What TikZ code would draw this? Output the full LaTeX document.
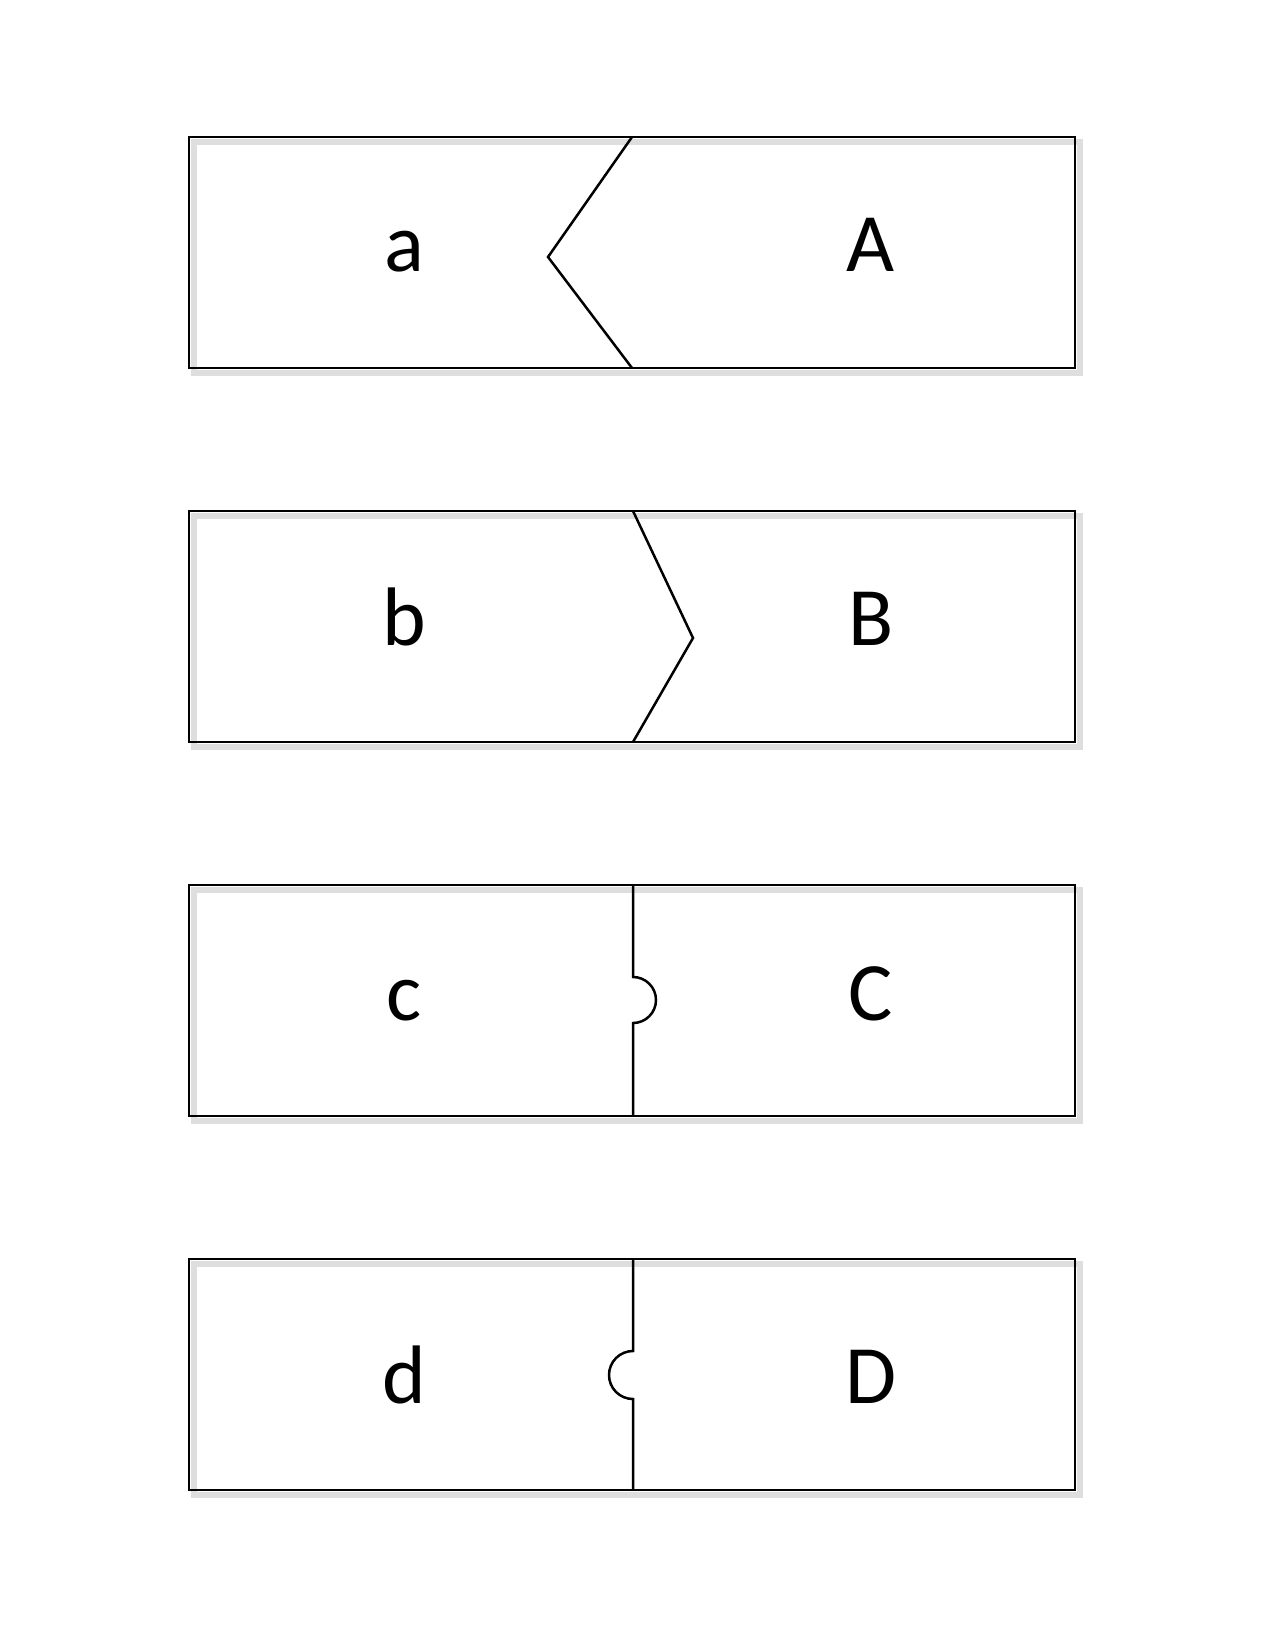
\documentclass[tikz,border=0pt]{standalone}
\usepackage{fontspec}
\setmainfont{Carlito}
\usetikzlibrary{positioning}
\tikzset{
    %one unit is one pixel of the page
    x=0.4818pt, y=-0.4818pt,
    boxline/.style={
      draw=black, line width=1.2pt, line join=miter},
    boxshade/.style={
      draw=black!13, line width=2.6pt},
    letter/.style={
      anchor=base, inner sep=0pt,
      font=\fontsize{40}{48}\selectfont},
}
\begin{document}
\begin{tikzpicture}
    \useasboundingbox [fill=white] (0,0) rectangle (1275,1650);
    % shadows
    \draw [boxshade] (194,142) rectangle (1080,373);
    \draw [boxshade] (194,516) rectangle (1080,747);
    \draw [boxshade] (194,890) rectangle (1080,1121);
    \draw [boxshade] (194,1264) rectangle (1080,1495);
    % frames
    \draw [boxline] (189,137) rectangle (1075,368);
    \draw [boxline] (189,511) rectangle (1075,742);
    \draw [boxline] (189,885) rectangle (1075,1116);
    \draw [boxline] (189,1259) rectangle (1075,1490);
    % joints
    \draw [boxline] (632,137) -- (548,257) -- (632,368);
    \draw [boxline] (633,511) -- (693,638) -- (633,742);
    \draw [boxline] (633,885) -- (633,977)
          arc [start angle=-90, end angle=90, radius=23] -- (633,1116);
    \draw [boxline] (633,1259) -- (633,1351)
          arc [start angle=270, end angle=90, radius=24] -- (633,1490);
    % labels
    \node (la) [letter] at (404,272) {a};
    \node (ua) [letter] at (871,272) {A};
    \node (lb) [letter] at (404,645) {b};
    \node (ub) [letter] at (871,645) {B};
    \node (lc) [letter] at (404,1020) {c};
    \node (uc) [letter] at (871,1020) {C};
    \node (ld) [letter] at (404,1403) {d};
    \node (ud) [letter] at (871,1403) {D};
\end{tikzpicture}
\end{document}
